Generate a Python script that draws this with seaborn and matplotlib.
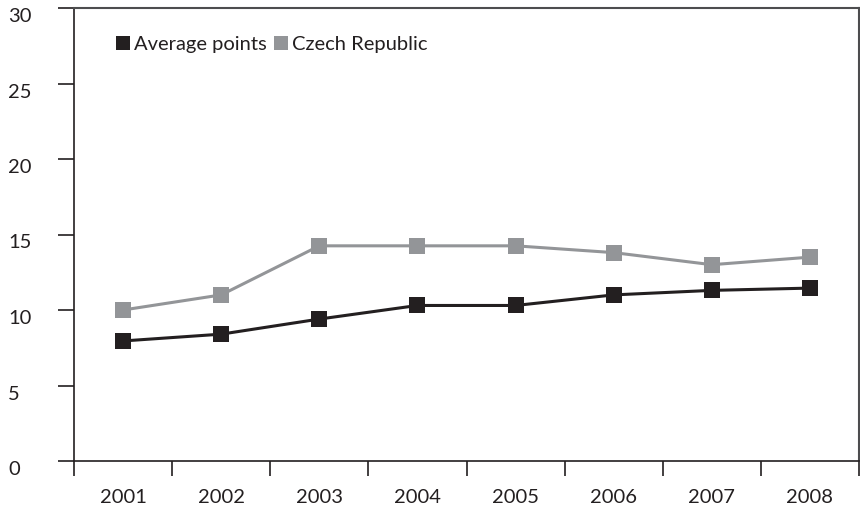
import matplotlib
matplotlib.use("Agg")
import matplotlib.pyplot as plt
from matplotlib.lines import Line2D
import seaborn as sns
import pandas as pd
import numpy as np

years = ["2001", "2002", "2003", "2004", "2005", "2006", "2007", "2008"]
average_points = [7.95, 8.4, 9.4, 10.3, 10.3, 11.0, 11.3, 11.45]
czech_republic = [10.0, 11.0, 14.25, 14.25, 14.25, 13.8, 13.0, 13.5]
series_names = ["Average points", "Czech Republic"]
y_ticks = [0, 5, 10, 15, 20, 25, 30]

BLACK = "#231f20"
GRAY = "#939598"

df = pd.DataFrame({
    "pos": list(range(len(years))) * 2,
    "value": average_points + czech_republic,
    "series": [series_names[0]] * len(years) + [series_names[1]] * len(years),
})

sns.set_theme(style="white")
plt.rcParams["font.family"] = ["Lato", "DejaVu Sans"]

fig = plt.figure(figsize=(8.6, 5.07), dpi=100)
ax = fig.add_axes([74 / 860, 1 - 461 / 507, (859 - 74) / 860, (461 - 8) / 507])

sns.lineplot(data=df, x="pos", y="value", hue="series", ax=ax,
             palette={series_names[0]: BLACK, series_names[1]: GRAY},
             marker="s", markersize=11.5, markeredgewidth=0, linewidth=2.2,
             legend=False, zorder=3)

ax.set_xlim(-0.5, len(years) - 0.5)
ax.set_ylim(0, 30)
ax.set_xlabel("")
ax.set_ylabel("")

# x: ticks at boundaries, labels at centers
ax.set_xticks(np.arange(-0.5, len(years), 1.0))
ax.set_xticklabels([])
ax.set_xticks(np.arange(len(years)), minor=True)
ax.set_xticklabels(years, minor=True)
ax.tick_params(axis="x", which="major", direction="out", length=11, width=1.2, color=BLACK, bottom=True)
ax.tick_params(axis="x", which="minor", length=0, pad=20.5, labelsize=14.5, labelcolor=BLACK, bottom=True)

ax.set_yticks(y_ticks)
ax.set_yticklabels([str(v) for v in y_ticks])
ax.tick_params(axis="y", direction="out", length=11.5, width=1.2, color=BLACK, pad=36, labelsize=14.5, labelcolor=BLACK, left=True)
for lab in ax.get_yticklabels():
    lab.set_horizontalalignment("left")
    lab.set_verticalalignment("top")

for side in ["left", "bottom"]:
    ax.spines[side].set_color(BLACK)
    ax.spines[side].set_linewidth(1.2)
for side in ["top", "right"]:
    ax.spines[side].set_color("#4d4d4f")
    ax.spines[side].set_linewidth(1.5)
ax.grid(False)

handles = [Line2D([], [], marker="s", linestyle="none", markersize=10.5, color=BLACK, markeredgewidth=0),
           Line2D([], [], marker="s", linestyle="none", markersize=10.5, color=GRAY, markeredgewidth=0)]
ax.legend(handles, series_names, loc="upper left", bbox_to_anchor=(0.03, 0.978), ncol=2,
          frameon=False, fontsize=14.5, handlelength=0.7, handletextpad=0.2, columnspacing=0.35,
          labelcolor=BLACK)

fig.savefig("out.png", dpi=100)
